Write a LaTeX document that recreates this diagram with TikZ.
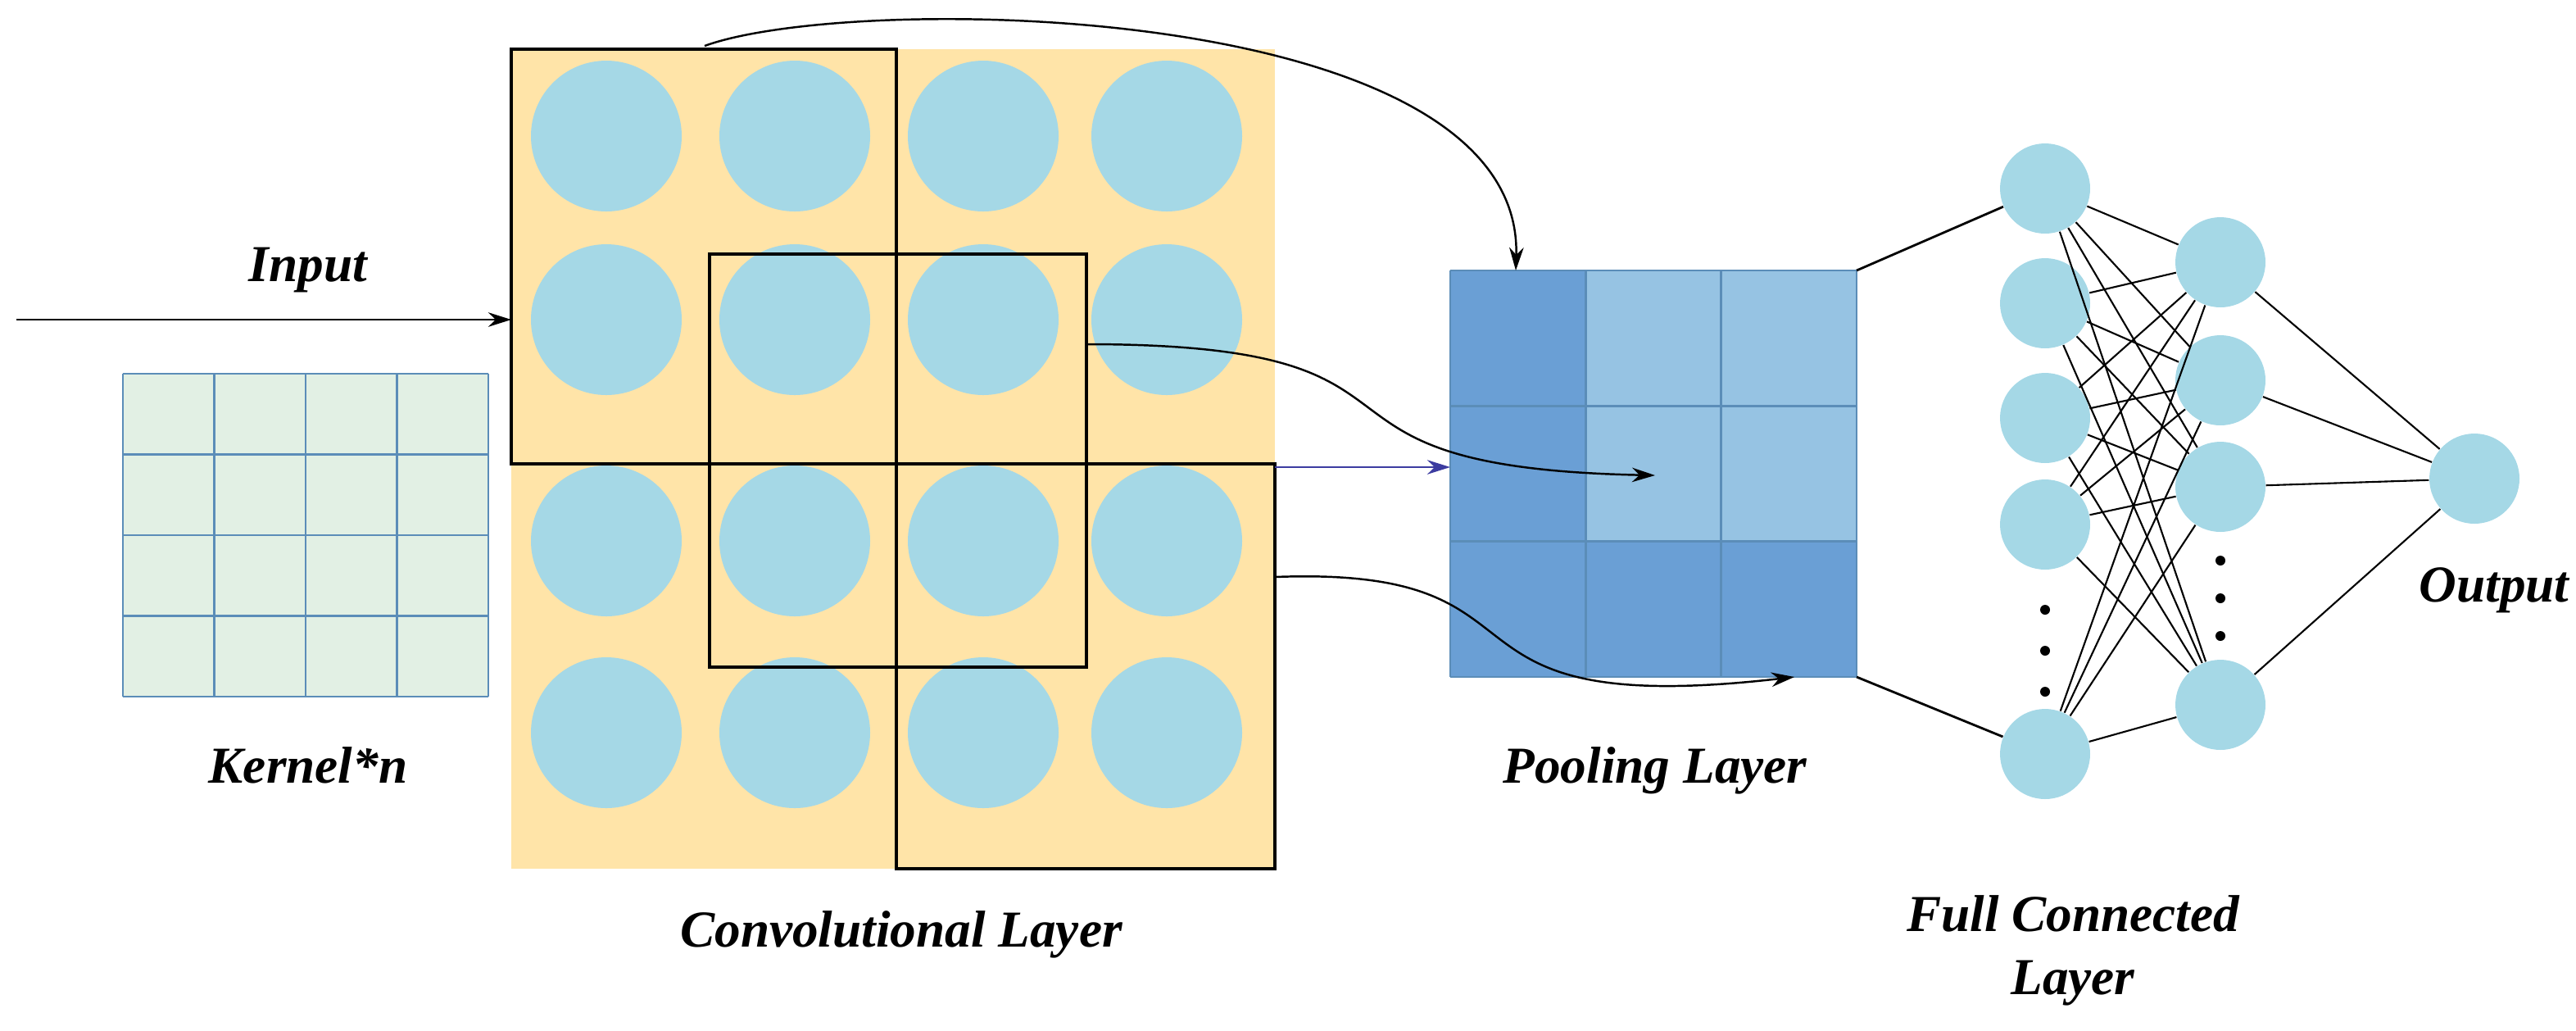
\documentclass[tikz,border=0pt]{standalone}
\usepackage{fontspec}
\setmainfont{Liberation Serif}
\usetikzlibrary{arrows.meta}
\definecolor{orng}{HTML}{FFE4A8}
\definecolor{circ}{HTML}{A5D8E6}
\definecolor{kern}{HTML}{E2F0E4}
\definecolor{kline}{HTML}{5B8DB8}
\definecolor{pdark}{HTML}{6A9FD5}
\definecolor{plight}{HTML}{96C3E3}
\begin{document}
\begin{tikzpicture}[x=0.02cm,y=-0.02cm,
  lbl/.style={font=\fontsize{18}{22}\selectfont\bfseries\itshape,align=center},
  fc/.style={circle,fill=circ,minimum size=1.1cm,inner sep=0pt},
  ar/.style={-{Stealth[length=8pt,width=5pt]},line width=0.7pt},
  box/.style={draw=black,line width=1pt}]
\useasboundingbox (0,0) rectangle (1572,628.5);
% conv
\fill[orng] (312,30) rectangle (778,530);
\foreach \x in {370,485,600,712}
  \foreach \y in {83,195,330,447}
    \fill[circ] (\x,\y) circle (46);
\draw[box] (312,30) rectangle (547,283);
\draw[box] (433,155) rectangle (663,407);
\draw[box] (547,283) rectangle (778,530);
% kernel
\fill[kern] (75,228) rectangle (298,425);
\foreach \i in {0,...,4}{
  \draw[kline,line width=0.8pt] (75+\i*55.75,228) -- (75+\i*55.75,425);
  \draw[kline,line width=0.8pt] (75,228+\i*49.25) -- (298,228+\i*49.25);}
% pooling
\fill[plight] (885,165) rectangle (1133,413);
\fill[pdark] (885,165) rectangle (968,330);
\fill[pdark] (885,330) rectangle (1133,413);
\foreach \i in {0,...,3}{
  \draw[kline,line width=0.8pt] (885+\i*82.67,165) -- (885+\i*82.67,413);
  \draw[kline,line width=0.8pt] (885,165+\i*82.67) -- (1133,165+\i*82.67);}
\coordinate (ptr) at (1133,165);
\coordinate (pbr) at (1133,413);
% FC
\foreach \y [count=\i] in {115,185,255,320,460} \node[fc] (a\i) at (1248,\y) {};
\foreach \y [count=\i] in {160,232,297,430} \node[fc] (b\i) at (1355,\y) {};
\node[fc] (o) at (1510,292) {};
\foreach \y in {372,397,422} \fill (1248,\y) circle (3);
\foreach \y in {342,365,388} \fill (1355,\y) circle (3);
\draw[line width=0.8pt] (ptr) -- (a1) (pbr) -- (a5);
\foreach \i in {1,...,5} \foreach \j in {1,...,4} \draw[line width=0.6pt] (a\i) -- (b\j);
\foreach \j in {1,...,4} \draw[line width=0.6pt] (b\j) -- (o);
% arrows
\coordinate (in0) at (10,195); \coordinate (in1) at (312,195);
\draw[ar] (in0) -- (in1);
\coordinate (bl0) at (778,285); \coordinate (bl1) at (885,285);
\draw[ar,draw={rgb,255:red,60;green,60;blue,160}] (bl0) -- (bl1);
\coordinate (c0) at (430,28); \coordinate (c1) at (925,165);
\draw[ar] (c0) .. controls (520,-5) and (930,0) .. (c1);
\coordinate (d0) at (663,210); \coordinate (d1) at (1010,290);
\draw[ar] (d0) .. controls (900,210) and (770,285) .. (d1);
\coordinate (e0) at (778,352); \coordinate (e1) at (1095,413);
\draw[ar] (e0) .. controls (960,345) and (860,440) .. (e1);
% labels
\node[lbl] at (188,165) {Input};
\node[lbl] at (188,467) {Kernel*n};
\node[lbl] at (550,570) {Convolutional Layer};
\node[lbl] at (1010,470) {Pooling Layer};
\node[lbl] at (1265,580) {Full Connected\\Layer};
\node[lbl] at (1522,360) {Output};
\end{tikzpicture}
\end{document}
